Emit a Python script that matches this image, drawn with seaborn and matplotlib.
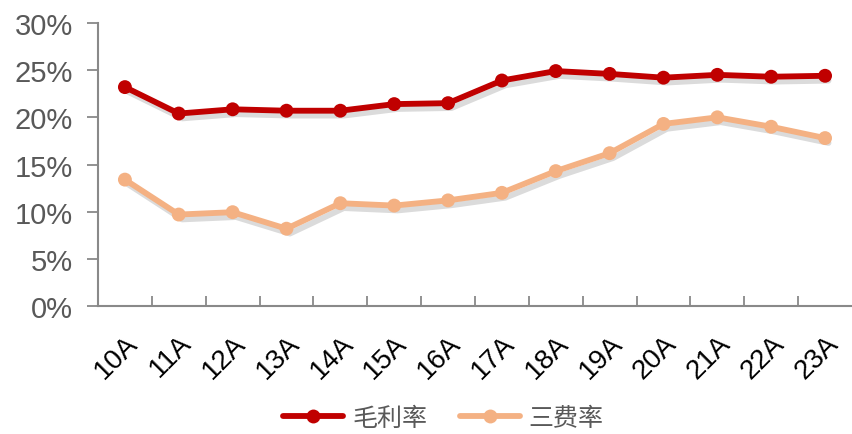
import matplotlib
matplotlib.use("Agg")
import matplotlib.pyplot as plt
import matplotlib.patheffects as pe
from matplotlib.ticker import FuncFormatter, FixedLocator
import seaborn as sns
import pandas as pd

years = ["10A", "11A", "12A", "13A", "14A", "15A", "16A",
         "17A", "18A", "19A", "20A", "21A", "22A", "23A"]
gross_margin = [23.2, 20.4, 20.85, 20.7, 20.7, 21.4, 21.5,
                23.9, 24.9, 24.6, 24.2, 24.5, 24.3, 24.4]
expense_ratio = [13.4, 9.7, 9.95, 8.2, 10.9, 10.65, 11.2,
                 12.0, 14.3, 16.2, 19.3, 20.0, 19.0, 17.8]
series_names = ["毛利率", "三费率"]
colors = ["#C00000", "#F4B183"]

df = pd.DataFrame({
    "year": years * 2,
    "x": list(range(len(years))) * 2,
    "value": gross_margin + expense_ratio,
    "series": [series_names[0]] * len(years) + [series_names[1]] * len(years),
})

sns.set_theme(style="white")
plt.rcParams["font.family"] = ["Liberation Sans", "Noto Sans CJK SC", "DejaVu Sans"]

fig = plt.figure(figsize=(8.52, 4.35), dpi=100)
ax = fig.add_axes([0.115, 0.294, 0.885, 0.651])

sns.lineplot(data=df, x="x", y="value", hue="series", palette=colors,
             marker="o", markersize=10, linewidth=4.2, markeredgewidth=0,
             ax=ax, legend=True)

# soft drop shadow under each series
shadow = [pe.SimpleLineShadow(offset=(2.5, -3.5), shadow_color="black", alpha=0.14),
          pe.Normal()]
for line in ax.get_lines():
    line.set_path_effects(shadow)

ax.set_xlim(-0.5, len(years) - 0.5)
ax.set_ylim(0, 30)
ax.set_yticks(range(0, 31, 5))
ax.yaxis.set_major_formatter(FuncFormatter(lambda v, _: f"{v:.0f}%"))
ax.set_xticks(range(len(years)))
ax.set_xticklabels(years, rotation=45, ha="right", va="top",
                   rotation_mode="anchor", fontsize=20, color="#000000")
ax.xaxis.set_minor_locator(FixedLocator([i + 0.5 for i in range(len(years) - 1)]))
ax.tick_params(axis="x", which="major", length=0, pad=17)
ax.tick_params(axis="x", which="minor", direction="in", length=7,
               width=1.3, color="#898989", bottom=True)
ax.tick_params(axis="y", direction="out", length=8, width=1.3, pad=10,
               color="#898989", labelsize=21, labelcolor="#595959", left=True)
ax.set_xlabel("")
ax.set_ylabel("")

for side in ["top", "right"]:
    ax.spines[side].set_visible(False)
for side in ["left", "bottom"]:
    ax.spines[side].set_color("#898989")
    ax.spines[side].set_linewidth(1.5)

handles, labels = ax.get_legend_handles_labels()
ax.legend(handles, labels, loc="center", bbox_to_anchor=(0.458, -0.395),
          ncol=2, frameon=False, handlelength=2.4, columnspacing=1.3,
          handletextpad=0.35, borderpad=0.2,
          prop={"family": ["Noto Sans CJK SC", "DejaVu Sans"], "size": 18},
          labelcolor="#595959")
for h in ax.get_legend().legend_handles:
    h.set_path_effects([])

fig.savefig("out.png", dpi=100)
